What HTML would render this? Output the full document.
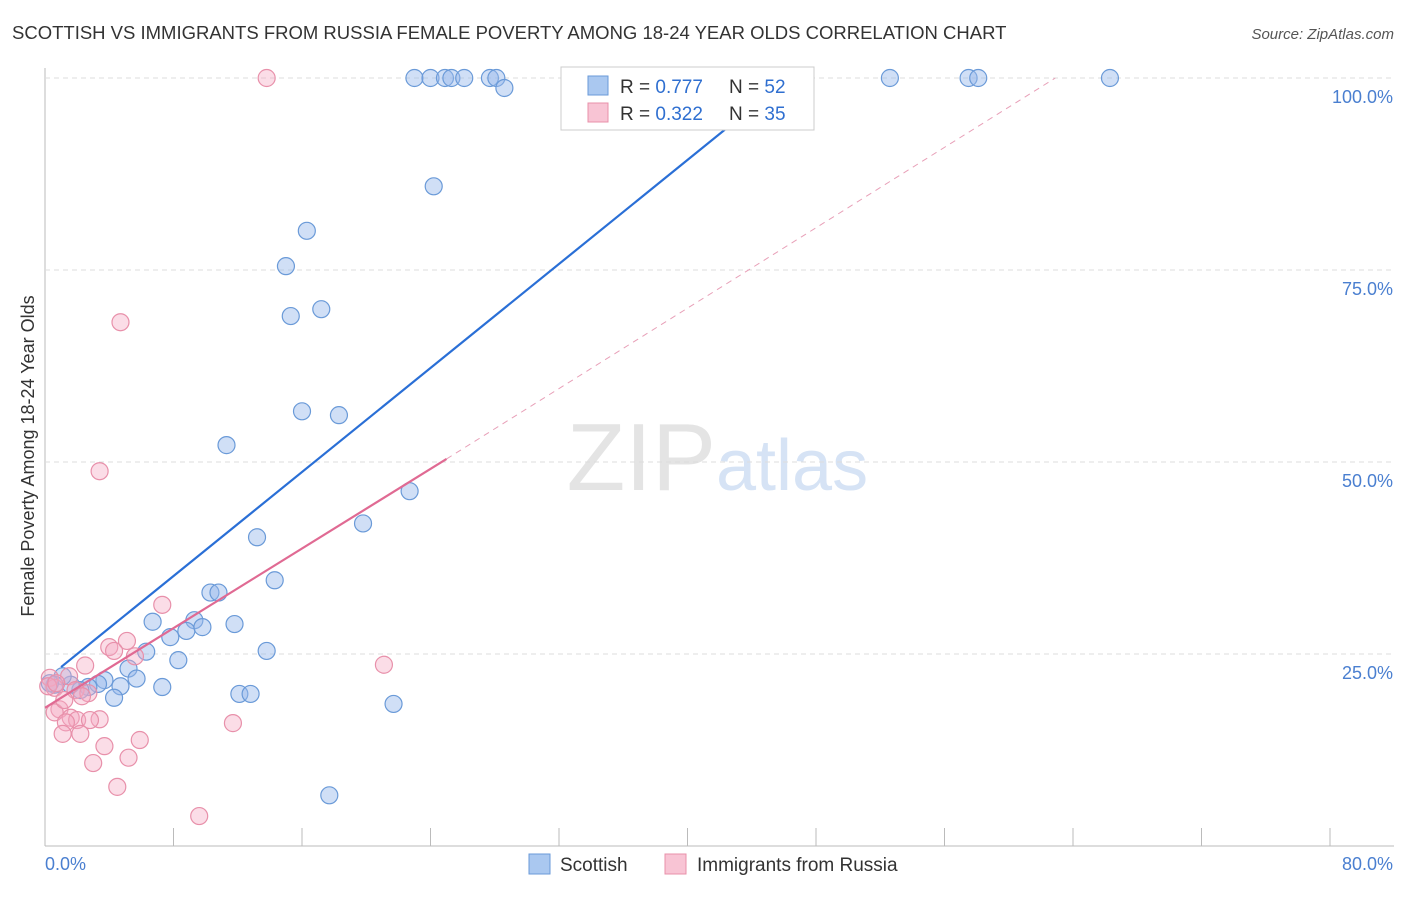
<!DOCTYPE html>
<html><head><meta charset="utf-8"><style>
body{margin:0;background:#fff;font-family:"Liberation Sans",sans-serif;}
svg text{font-family:"Liberation Sans",sans-serif;}
</style></head><body>
<svg id="c" width="1406" height="892">
<text x="12" y="39" font-size="18.5" fill="#333">SCOTTISH VS IMMIGRANTS FROM RUSSIA FEMALE POVERTY AMONG 18-24 YEAR OLDS CORRELATION CHART</text>
<text x="1394" y="39" font-size="15" fill="#555" font-style="italic" text-anchor="end">Source: ZipAtlas.com</text>
<text x="716" y="490" font-size="96" fill="#e4e4e4" text-anchor="end" font-family="Liberation Serif">ZIP</text>
<text x="716" y="490" font-size="72" fill="#d6e3f5">atlas</text>
<text transform="translate(34,456) rotate(-90)" font-size="18" fill="#333" text-anchor="middle">Female Poverty Among 18-24 Year Olds</text>
<g id="grid"></g><g id="marks"></g>
<g>
<rect x="561" y="67" width="253" height="63" fill="#fff" stroke="#ccc"/>
<rect x="588" y="76" width="20" height="19" fill="#aac8f0" stroke="#6a9ad8"/>
<rect x="588" y="103" width="20" height="19" fill="#f8c4d4" stroke="#e890aa"/>
<text x="620" y="93" font-size="19" fill="#333">R = <tspan fill="#2f6fd0">0.777</tspan></text>
<text x="729" y="93" font-size="19" fill="#333">N = <tspan fill="#2f6fd0">52</tspan></text>
<text x="620" y="120" font-size="19" fill="#333">R = <tspan fill="#2f6fd0">0.322</tspan></text>
<text x="729" y="120" font-size="19" fill="#333">N = <tspan fill="#2f6fd0">35</tspan></text>
</g>
<g>
<rect x="529" y="854" width="21" height="20" fill="#aac8f0" stroke="#6a9ad8"/>
<text x="560" y="871" font-size="19" fill="#333">Scottish</text>
<rect x="665" y="854" width="21" height="20" fill="#f8c4d4" stroke="#e890aa"/>
<text x="697" y="871" font-size="19" fill="#333">Immigrants from Russia</text>
</g>
<text x="45" y="870" font-size="18" fill="#4a7fd0">0.0%</text>
<text x="1393" y="870" font-size="18" fill="#4a7fd0" text-anchor="end">80.0%</text>
</svg>
<script>
const yTicks=[25,50,75,100];
const yTickLabels=["25.0%","50.0%","75.0%","100.0%"];
const xTicks=[0,8,16,24,32,40,48,56,64,72,80];
const blueX=[23.0,24.0,24.9,25.3,26.1,27.7,28.1,28.6,52.6,57.5,58.1,66.3,24.2,16.3,15.0,15.3,17.2,16.0,18.3,11.3,22.7,19.8,13.2,14.3,10.3,10.8,6.7,9.3,7.8,8.8,9.8,11.8,8.3,13.8,6.3,5.2,5.7,4.7,7.3,3.7,3.3,2.7,2.2,1.6,1.1,0.6,0.3,4.3,12.1,12.8,21.7,17.7];
const blueY=[100,100,100,100,100,100,100,98.7,100,100,100,100,85.9,80.1,75.5,69,69.9,56.6,56.1,52.2,46.2,42,40.2,34.6,33,33,29.2,29.4,27.2,28,28.5,28.9,24.2,25.4,25.3,23.1,21.8,20.8,20.7,21.6,21.1,20.7,20.3,21,22.1,21,21.2,19.3,19.8,19.8,18.5,6.6];
const pinkX=[13.8,4.7,3.4,7.3,5.1,4.0,4.3,5.6,2.5,1.5,0.3,0.6,1.9,2.7,0.9,0.6,1.6,2.0,3.4,2.8,1.3,1.1,2.2,3.7,5.9,5.2,3.0,4.5,9.6,11.7,21.1,0.2,0.7,1.2,2.3];
const pinkY=[100,68.2,48.8,31.4,26.7,25.9,25.4,24.7,23.5,22.1,21.9,20.6,20.3,19.9,17.8,17.4,16.7,16.4,16.5,16.4,16.1,14.6,14.6,13.0,13.8,11.5,10.8,7.7,3.9,16.0,23.6,20.8,21.2,19,19.5];
const X=v=>45+v/80*1285, Y=v=>846-v/100*768;
const ns="http://www.w3.org/2000/svg";
function mk(p,t,a){const e=document.createElementNS(ns,t);for(const k in a)e.setAttribute(k,a[k]);p.appendChild(e);return e;}
const g=document.getElementById('grid'), m=document.getElementById('marks');
mk(g,'line',{x1:45,y1:68,x2:45,y2:846,stroke:'#bbb'});
mk(g,'line',{x1:45,y1:846,x2:1394,y2:846,stroke:'#bbb'});
yTicks.forEach((t,i)=>{
 const l=mk(g,'line',{x1:45,y1:Y(t),x2:1394,y2:Y(t),stroke:'#ddd','stroke-dasharray':'5,4'});
 
 
 const tx=mk(g,'text',{x:1393,y:Y(t)+25,'font-size':18,fill:'#4a7fd0','text-anchor':'end'});
 tx.textContent=yTickLabels[i];
 
 
});
xTicks.forEach(t=>{
 const l=mk(g,'line',{x1:X(t),y1:846,x2:X(t),y2:828,stroke:'#bbb'});
 
 
});
blueX.forEach((v,i)=>{
 const c=mk(m,'circle',{cx:X(v),cy:Y(blueY[i]),r:8.5,fill:'rgba(150,185,235,0.45)',stroke:'#6a9ad8','stroke-width':1.2});
 
 
});
pinkX.forEach((v,i)=>{
 const c=mk(m,'circle',{cx:X(v),cy:Y(pinkY[i]),r:8.5,fill:'rgba(245,170,195,0.4)',stroke:'#e890aa','stroke-width':1.2});
 
 
});
const bl=mk(m,'line',{x1:X(1),y1:Y(23.3),x2:X(46.3),y2:Y(100),stroke:'#2a6fd6','stroke-width':2.2});


const pl=mk(m,'line',{x1:X(0),y1:Y(18),x2:X(25),y2:Y(50.4),stroke:'#e06a93','stroke-width':2.2});


const pd=mk(m,'line',{x1:X(25),y1:Y(50.4),x2:X(62.9),y2:Y(100),stroke:'#e8a0b8','stroke-width':1,'stroke-dasharray':'6,5'});


</script>
</body></html>
